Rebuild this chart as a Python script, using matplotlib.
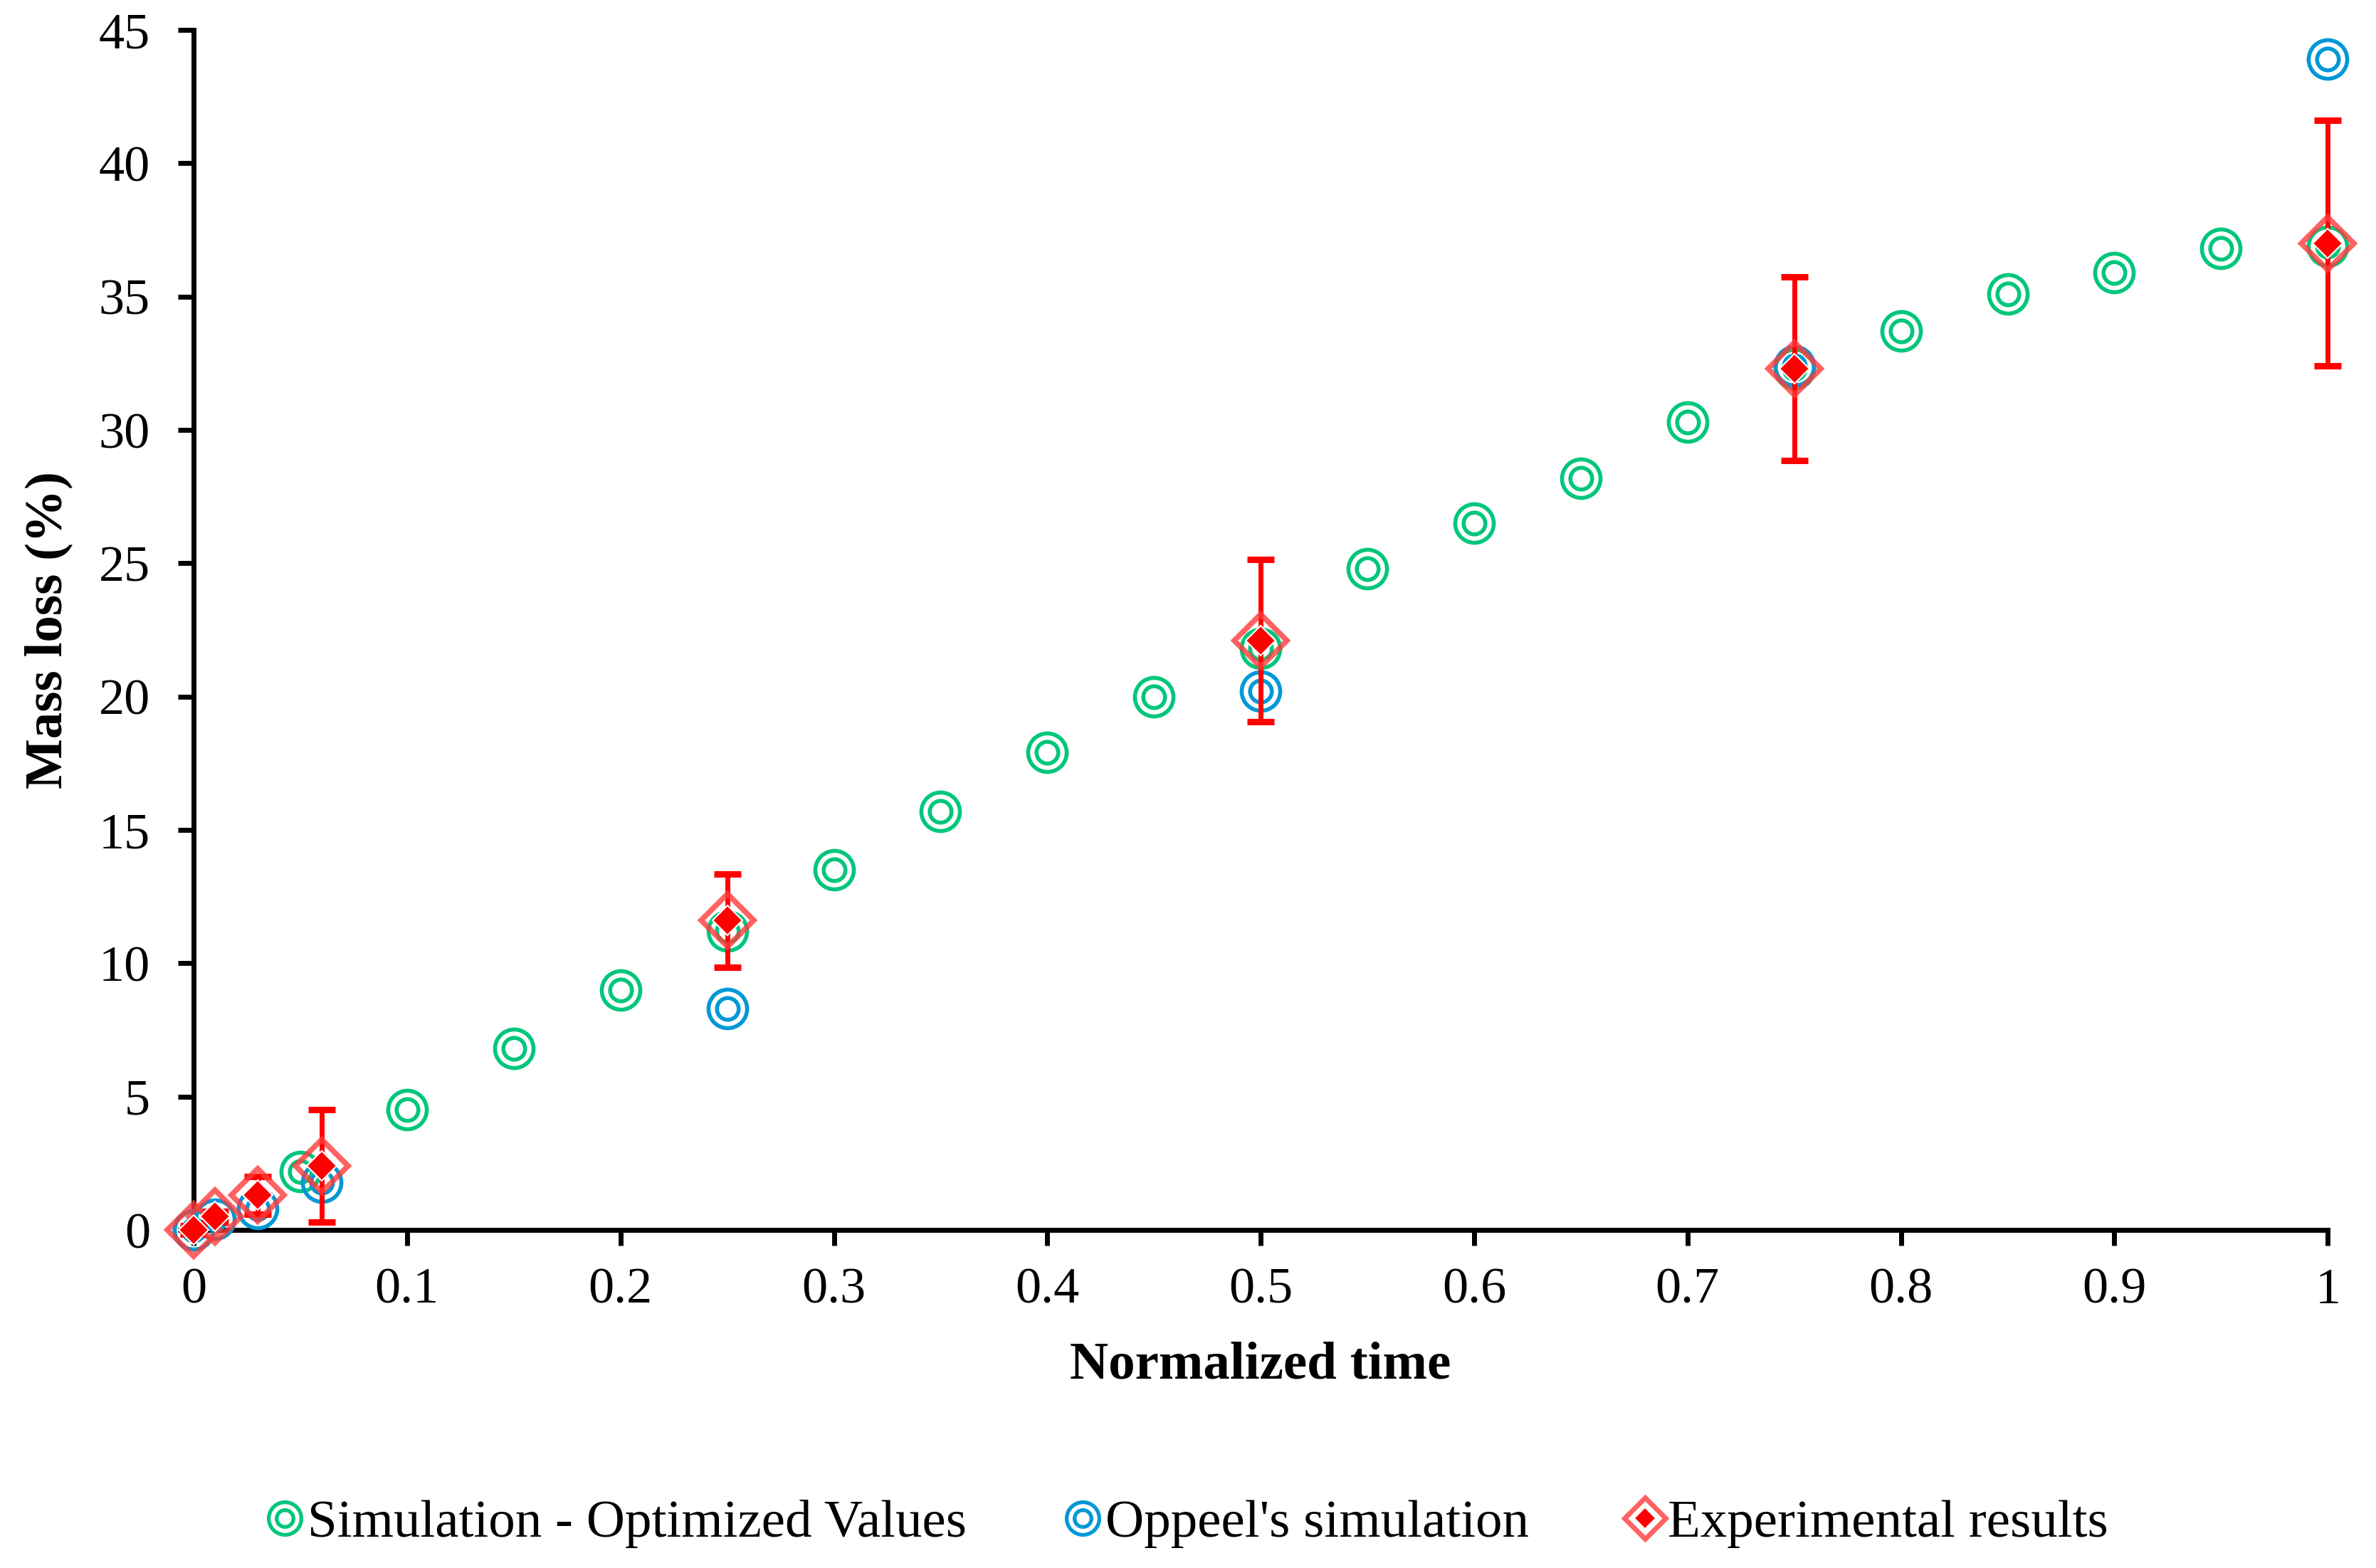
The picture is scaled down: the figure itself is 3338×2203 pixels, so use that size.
import numpy as np
import matplotlib
matplotlib.use("Agg")
import matplotlib.pyplot as plt
from matplotlib.lines import Line2D
from matplotlib.ticker import FormatStrFormatter, MultipleLocator
from matplotlib.legend_handler import HandlerTuple

plt.rcParams['font.family'] = ['Liberation Serif', 'DejaVu Serif']

# simulation - optimized values
sim_t = [0, 0.05, 0.1, 0.15, 0.2, 0.25, 0.3, 0.35, 0.4, 0.45, 0.5,
         0.55, 0.6, 0.65, 0.7, 0.75, 0.8, 0.85, 0.9, 0.95, 1.0]
sim_loss = [0, 2.2, 4.5, 6.8, 9.0, 11.2, 13.5, 15.7, 17.9, 20.0, 21.8,
            24.8, 26.5, 28.2, 30.3, 32.3, 33.7, 35.1, 35.9, 36.8, 36.9]

# Oppeel's simulation
opp_t = [0, 0.01, 0.03, 0.06, 0.25, 0.5, 0.75, 1.0]
opp_loss = [0, 0.4, 0.8, 1.8, 8.3, 20.2, 32.4, 43.9]

# experimental results
exp_t = [0, 0.01, 0.03, 0.06, 0.25, 0.5, 0.75, 1.0]
exp_loss = [0, 0.5, 1.3, 2.4, 11.6, 22.1, 32.3, 37.0]
exp_err = [0.15, 0.2, 0.7, 2.1, 1.75, 3.05, 3.45, 4.6]

green = '#00C67C'
blue = '#0098D6'
red_edge = '#FF3B3B'
red = '#FF0000'

fig = plt.figure(figsize=(33.38, 22.03), dpi=100)
ax = fig.add_axes([0.0815, 0.2156, 0.8982, 0.7653])

ring_out = 39
ring_in = 22
ring_w = 4

def rings(x, y, c, z):
    ax.plot(x, y, ls='none', marker='o', ms=ring_out, mfc='none', mec=c,
            mew=ring_w, clip_on=False, zorder=z)
    ax.plot(x, y, ls='none', marker='o', ms=ring_in, mfc='none', mec=c,
            mew=ring_w, clip_on=False, zorder=z)

rings(sim_t, sim_loss, green, 5)
rings(opp_t, opp_loss, blue, 6)

ax.errorbar(exp_t, exp_loss, yerr=exp_err, fmt='none', ecolor=red,
            elinewidth=5, capsize=14, capthick=6.5, clip_on=False, zorder=7)
ax.plot(exp_t, exp_loss, ls='none', marker='D', ms=38, mfc='none',
        mec=red_edge, mew=5.5, alpha=0.8, clip_on=False, zorder=8)
ax.plot(exp_t, exp_loss, ls='none', marker='D', ms=21, mfc=red,
        mec='white', mew=1.5, clip_on=False, zorder=9)

ax.set_xlim(0, 1)
ax.set_ylim(0, 45)
ax.xaxis.set_major_locator(MultipleLocator(0.1))
ax.yaxis.set_major_locator(MultipleLocator(5))
ax.xaxis.set_major_formatter(FormatStrFormatter('%g'))

for s in ['top', 'right']:
    ax.spines[s].set_visible(False)
for s in ['left', 'bottom']:
    ax.spines[s].set_linewidth(5)
ax.tick_params(axis='both', direction='out', length=16, width=5,
               labelsize=52)
ax.tick_params(axis='x', pad=22)
ax.tick_params(axis='y', pad=28)

ax.set_xlabel('Normalized time', fontsize=54, fontweight='bold', labelpad=28)
ax.set_ylabel('Mass loss (%)', fontsize=54, fontweight='bold', labelpad=26)

def ring_handle(c):
    a = Line2D([], [], ls='none', marker='o', ms=33, mfc='none', mec=c, mew=3.8)
    b = Line2D([], [], ls='none', marker='o', ms=17, mfc='none', mec=c, mew=3.8)
    return (a, b)

d1 = Line2D([], [], ls='none', marker='D', ms=30, mfc='none', mec=red_edge,
            mew=5, alpha=0.8)
d2 = Line2D([], [], ls='none', marker='D', ms=15, mfc=red, mec='white', mew=1.2)

fig.legend([ring_handle(green), ring_handle(blue), (d1, d2)],
           ['Simulation - Optimized Values', "Oppeel's simulation",
            'Experimental results'],
           handler_map={tuple: HandlerTuple(ndivide=1)},
           loc='lower center', bbox_to_anchor=(0.5, -0.018), ncol=3,
           frameon=False, fontsize=54, handlelength=0.65, handletextpad=0.1,
           columnspacing=1.85)

fig.savefig('out.png', dpi=100)
